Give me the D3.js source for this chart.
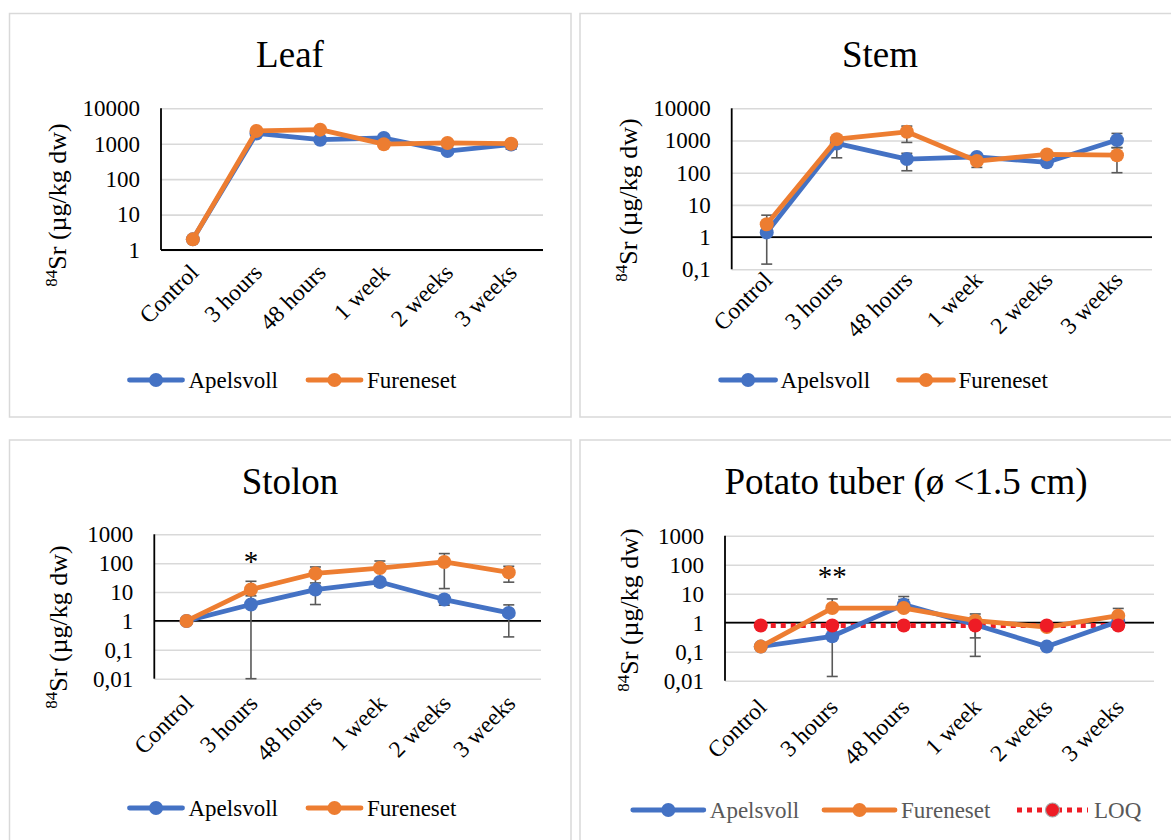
<!DOCTYPE html>
<html>
<head>
<meta charset="utf-8">
<script src="https://cdn.jsdelivr.net/npm/d3@7"></script>
<style>
  body { margin: 0; background: #fff; }
  svg { display: block; }
  text { font-family: "Liberation Serif", "Times New Roman", serif; fill: #000; }
</style>
</head>
<body>
<svg id="chart" width="1171" height="840"></svg>
<script>
// ---- data -------------------------------------------------------------
const categories = ["Control", "3 hours", "48 hours", "1 week", "2 weeks", "3 weeks"];
const seriesNames = ["Apelsvoll", "Fureneset"];
const loqName = "LOQ";

// 84Sr concentration (µg/kg dw), mean per sampling time
const leafApelsvoll = [2, 1950, 1300, 1450, 620, 950];
const leafFureneset = [2, 2300, 2500, 970, 1050, 1000];
const stemApelsvoll = [1.4, 810, 265, 310, 210, 1030];
const stemFureneset = [2.5, 1100, 1860, 230, 370, 350];
const stolonApelsvoll = [1, 3.7, 12.2, 22.4, 5.5, 1.9];
const stolonFureneset = [1, 12.2, 44, 68, 110, 48];
const tuberApelsvoll = [0.15, 0.34, 4.2, 0.85, 0.15, 1.1];
const tuberFureneset = [0.15, 3.2, 3.2, 1.17, 0.71, 1.75];
const tuberLOQ = [0.8, 0.8, 0.8, 0.8, 0.8, 0.8];

// error bar ends [low, high]; null = no bar
const leafApelsvollErr = [null, [1700, 2200], [1100, 1500], [1250, 1650], [520, 720], [700, 1200]];
const leafFurenesetErr = [null, [2000, 2600], [2200, 2800], [850, 1090], [900, 1200], [880, 1120]];
const stemApelsvollErr = [[0.145, 2.66], [290, 1330], [115, 400], [250, 370], [170, 250], [600, 1660]];
const stemFurenesetErr = [[2.5, 4.8], [900, 1300], [870, 2800], [146, 314], [300, 440], [100, 600]];
const stolonApelsvollErr = [null, [0.01, 7.4], [3.7, 20.7], [16, 29], [3.5, 7.5], [0.28, 3.6]];
const stolonFurenesetErr = [null, [12.2, 23.6], [14, 74], [17, 119], [13.2, 215], [22, 78]];
const tuberApelsvollErr = [null, [0.014, 0.67], [4.2, 8.0], [0.069, 1.63], null, [0.6, 1.6]];
const tuberFurenesetErr = [null, [3.2, 6.6], [3.2, 6.3], [0.3, 2.0], null, [1.75, 3.1]];

// y-axis tick values per panel
const leafTicks = [1, 10, 100, 1000, 10000];
const stemTicks = [0.1, 1, 10, 100, 1000, 10000];
const stolonTicks = [0.01, 0.1, 1, 10, 100, 1000];
const tuberTicks = [0.01, 0.1, 1, 10, 100, 1000];

// significance marks
const stolonMarks = [{ category: "3 hours", label: "*" }];
const tuberMarks = [{ category: "3 hours", label: "**" }];

const titles = ["Leaf", "Stem", "Stolon", "Potato tuber (\u00f8 <1.5 cm)"];

// ---- styling ----------------------------------------------------------
const BLUE = "#4472C4", ORANGE = "#ED7D31", RED = "#EE1C25";
const GRID = "#d9d9d9", FRAME = "#d9d9d9", ERR = "#595959";

const svg = d3.select("#chart");
const fmt = d3.formatLocale({ decimal: ",", thousands: "", grouping: [3], currency: ["", ""] }).format("~g");

const panels = [
  {
    title: titles[0], frame: [9.5, 13.5, 571, 417], titleX: 290, titleY: 67,
    x0: 161, x1: 543, yTop: 108.3, yBot: 250, ticks: leafTicks,
    series: [
      { name: seriesNames[0], values: leafApelsvoll, err: leafApelsvollErr, color: BLUE },
      { name: seriesNames[1], values: leafFureneset, err: leafFurenesetErr, color: ORANGE }
    ],
    label: { x: 66, y: 205 }, catOff: { dx: 7, dy: 24 },
    legend: { y: 380, len: 53, gap: 6, items: [129.5, 308] }, marks: []
  },
  {
    title: titles[1], frame: [580, 13.5, 1190, 417], titleX: 880, titleY: 67,
    x0: 731.7, x1: 1152, yTop: 108.3, yBot: 269.3, ticks: stemTicks,
    series: [
      { name: seriesNames[0], values: stemApelsvoll, err: stemApelsvollErr, color: BLUE },
      { name: seriesNames[1], values: stemFureneset, err: stemFurenesetErr, color: ORANGE }
    ],
    label: { x: 636.5, y: 200 }, catOff: { dx: 7, dy: 12 },
    legend: { y: 380, len: 55, gap: 5, items: [720.6, 898.5] }, marks: []
  },
  {
    title: titles[2], frame: [9.5, 440, 571, 850], titleX: 290, titleY: 494,
    x0: 154.3, x1: 541, yTop: 534.3, yBot: 678.7, ticks: stolonTicks,
    series: [
      { name: seriesNames[0], values: stolonApelsvoll, err: stolonApelsvollErr, color: BLUE },
      { name: seriesNames[1], values: stolonFureneset, err: stolonFurenesetErr, color: ORANGE }
    ],
    label: { x: 66.5, y: 627 }, catOff: { dx: 8, dy: 26 },
    legend: { y: 808, len: 53, gap: 6, items: [129.5, 308] }, marks: stolonMarks, markY: 571
  },
  {
    title: titles[3], frame: [580, 440, 1190, 850], titleX: 906, titleY: 494,
    x0: 725, x1: 1154, yTop: 535.7, yBot: 680.7, ticks: tuberTicks,
    series: [
      { name: seriesNames[0], values: tuberApelsvoll, err: tuberApelsvollErr, color: BLUE },
      { name: seriesNames[1], values: tuberFureneset, err: tuberFurenesetErr, color: ORANGE }
    ],
    loq: tuberLOQ,
    label: { x: 638, y: 610 }, catOff: { dx: 7, dy: 28 },
    legend: { y: 810, len: 71, gap: 6, items: [632.8, 824, 1017], textColor: "#595959" },
    marks: tuberMarks, markY: 586
  }
];

panels.forEach(drawPanel);

function drawPanel(p) {
  const g = svg.append("g");
  const [fx0, fy0, fx1, fy1] = p.frame;
  g.append("rect")
    .attr("x", fx0).attr("y", fy0).attr("width", fx1 - fx0).attr("height", fy1 - fy0)
    .attr("fill", "#fff").attr("stroke", FRAME).attr("stroke-width", 1.5);

  g.append("text").attr("x", p.titleX).attr("y", p.titleY)
    .attr("text-anchor", "middle").attr("font-size", 37).text(p.title);

  const x = d3.scalePoint().domain(categories).range([p.x0, p.x1]).padding(0.5);
  const y = d3.scaleLog().domain([p.ticks[0], p.ticks[p.ticks.length - 1]]).range([p.yBot, p.yTop]);

  // gridlines
  g.append("g").attr("transform", `translate(${p.x0},0)`)
    .call(d3.axisLeft(y).tickValues(p.ticks).tickSize(-(p.x1 - p.x0)).tickFormat(""))
    .call(a => a.select(".domain").remove())
    .call(a => a.selectAll("line").attr("stroke", GRID).attr("stroke-width", 1.6));

  // y tick labels
  g.append("g").attr("transform", `translate(${p.x0},0)`)
    .call(d3.axisLeft(y).tickValues(p.ticks).tickSize(0).tickPadding(21).tickFormat(fmt))
    .call(a => a.select(".domain").remove())
    .call(a => a.selectAll("text").attr("font-size", 23).attr("font-family", "Liberation Serif"));

  // axis lines
  g.append("line").attr("x1", p.x0).attr("x2", p.x0).attr("y1", p.yTop).attr("y2", p.yBot)
    .attr("stroke", "#000").attr("stroke-width", 1.8);
  g.append("line").attr("x1", p.x0).attr("x2", p.x1).attr("y1", y(1)).attr("y2", y(1))
    .attr("stroke", "#000").attr("stroke-width", 1.8);

  // category labels
  g.selectAll(".cat").data(categories).enter().append("text")
    .attr("font-size", 23.5).attr("text-anchor", "end")
    .attr("transform", d => `translate(${x(d) + p.catOff.dx},${p.yBot + p.catOff.dy}) rotate(-45)`)
    .text(d => d);

  // y-axis title
  const yl = g.append("text").attr("font-size", 26).attr("text-anchor", "middle")
    .attr("transform", `translate(${p.label.x},${p.label.y}) rotate(-90)`);
  yl.append("tspan").attr("font-size", 17).attr("dy", "-0.55em").text("84");
  yl.append("tspan").attr("dy", "0.36em").text("Sr (\u00b5g/kg dw)");

  // error bars
  const cap = 5.5;
  p.series.forEach(s => {
    s.err.forEach((e, i) => {
      if (!e) return;
      const cx = x(categories[i]);
      const v = s.values[i];
      g.append("line").attr("x1", cx).attr("x2", cx).attr("y1", y(e[0])).attr("y2", y(e[1]))
        .attr("stroke", ERR).attr("stroke-width", 1.6);
      e.forEach(end => {
        if (end === v) return;
        g.append("line").attr("x1", cx - cap).attr("x2", cx + cap).attr("y1", y(end)).attr("y2", y(end))
          .attr("stroke", ERR).attr("stroke-width", 1.6);
      });
    });
  });

  const line = d3.line().x((d, i) => x(categories[i])).y(d => y(d));

  // LOQ reference
  if (p.loq) {
    g.append("path").datum(p.loq).attr("d", line).attr("fill", "none")
      .attr("stroke", RED).attr("stroke-width", 5).attr("stroke-dasharray", "5,5");
  }

  p.series.forEach(s => {
    g.append("path").datum(s.values).attr("d", line).attr("fill", "none")
      .attr("stroke", s.color).attr("stroke-width", 4.8).attr("stroke-linejoin", "round");
    g.selectAll(null).data(s.values).enter().append("circle")
      .attr("cx", (d, i) => x(categories[i])).attr("cy", d => y(d)).attr("r", 7)
      .attr("fill", s.color);
  });

  if (p.loq) {
    g.selectAll(null).data(p.loq).enter().append("circle")
      .attr("cx", (d, i) => x(categories[i])).attr("cy", d => y(d)).attr("r", 7)
      .attr("fill", RED);
  }

  // significance marks
  p.marks.forEach(m => {
    g.append("text").attr("x", x(m.category)).attr("y", p.markY)
      .attr("text-anchor", "middle").attr("font-size", 29).text(m.label);
  });

  // legend
  const L = p.legend;
  const entries = p.series.map(s => ({ name: s.name, color: s.color, dashed: false }));
  if (p.loq) entries.push({ name: loqName, color: RED, dashed: true });
  entries.forEach((e, i) => {
    const lx = L.items[i];
    const lg = g.append("g");
    lg.append("line").attr("x1", lx).attr("x2", lx + L.len).attr("y1", L.y).attr("y2", L.y)
      .attr("stroke", e.color).attr("stroke-width", e.dashed ? 5 : 4.8)
      .attr("stroke-linecap", e.dashed ? "butt" : "round")
      .attr("stroke-dasharray", e.dashed ? "5,5" : null);
    lg.append("circle").attr("cx", lx + L.len / 2).attr("cy", L.y).attr("r", 7)
      .attr("fill", e.color).attr("stroke", e.dashed ? "#a6a6a6" : "none").attr("stroke-width", 1.2);
    lg.append("text").attr("x", lx + L.len + L.gap).attr("y", L.y).attr("dy", "0.33em")
      .attr("font-size", 23).style("fill", L.textColor || "#000").text(e.name);
  });
}
</script>
</body>
</html>
